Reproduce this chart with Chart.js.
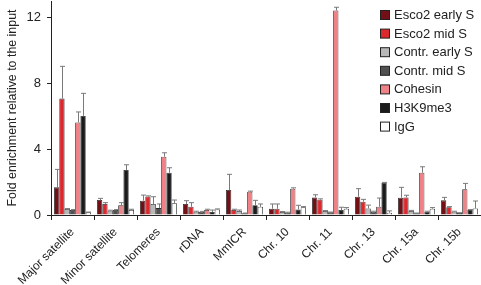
<!DOCTYPE html>
<html lang="en">
<head>
<meta charset="UTF-8">
<title>Fold enrichment</title>
<script src="https://cdn.jsdelivr.net/npm/chart.js"></script>
<style>
  body { margin: 0; background: #fff; }
  #wrap { position: relative; width: 481px; height: 285px; }
</style>
</head>
<body>
<div id="wrap"><canvas id="chart" width="481" height="285"></canvas></div>
<script>
// categories and values
const categories = ['Major satellite', 'Minor satellite', 'Telomeres', 'rDNA', 'MmICR',
  'Chr. 10', 'Chr. 11', 'Chr. 13', 'Chr. 15a', 'Chr. 15b'];
const seriesNames = ['Esco2 early S', 'Esco2 mid S', 'Contr. early S', 'Contr. mid S', 'Cohesin', 'H3K9me3', 'IgG'];

const esco2Early    = [1.68, 0.91, 0.87, 0.67, 1.52, 0.38, 1.07, 1.11, 1.05, 0.89];
const esco2EarlyErr = [1.09, 0.10, 0.34, 0.20, 0.95, 0.29, 0.16, 0.49, 0.63, 0.18];
const esco2Mid      = [7.07, 0.67, 1.13, 0.50, 0.30, 0.38, 0.93, 0.81, 1.07, 0.47];
const esco2MidErr   = [1.96, 0.08, 0.03, 0.25, 0.05, 0.29, 0.05, 0.14, 0.13, 0.04];
const contrEarly    = [0.36, 0.26, 0.67, 0.20, 0.24, 0.18, 0.24, 0.40, 0.24, 0.20];
const contrEarlyErr = [0.03, 0.03, 0.44, 0.03, 0.06, 0.03, 0.03, 0.20, 0.04, 0.03];
const contrMid      = [0.30, 0.30, 0.42, 0.20, 0.10, 0.15, 0.16, 0.20, 0.10, 0.12];
const contrMidErr   = [0.03, 0.03, 0.25, 0.02, 0.02, 0.02, 0.02, 0.03, 0.02, 0.02];
const cohesin       = [5.62, 0.59, 3.54, 0.30, 1.41, 1.60, 12.42, 0.50, 2.57, 1.56];
const cohesinErr    = [0.64, 0.16, 0.24, 0.05, 0.04, 0.05, 0.20, 0.53, 0.36, 0.36];
const h3k9me3       = [6.02, 2.73, 2.57, 0.18, 0.59, 0.34, 0.30, 1.96, 0.20, 0.30];
const h3k9me3Err    = [1.37, 0.32, 0.30, 0.12, 0.30, 0.25, 0.17, 0.02, 0.03, 0.03];
const igg           = [0.16, 0.30, 0.71, 0.34, 0.50, 0.47, 0.38, 0.14, 0.38, 0.40];
const iggErr        = [0.02, 0.05, 0.20, 0.03, 0.17, 0.04, 0.07, 0.11, 0.07, 0.45];

const yTicks = [0, 4, 8, 12];
const yMax = 13;

const colors = ['#731015', '#dc272c', '#b8b8b8', '#505050', '#ef8286', '#1b1b1b', '#ffffff'];
const values = [esco2Early, esco2Mid, contrEarly, contrMid, cohesin, h3k9me3, igg];
const errors = [esco2EarlyErr, esco2MidErr, contrEarlyErr, contrMidErr, cohesinErr, h3k9me3Err, iggErr];

const FONT = 'Arial, "Liberation Sans", sans-serif';

// error bars drawn on top of each bar using the y scale
const errorBars = {
  id: 'errorBars',
  afterDatasetsDraw(chart) {
    const ctx = chart.ctx;
    const y = chart.scales.y;
    ctx.save();
    ctx.strokeStyle = '#7a7a7a';
    ctx.lineWidth = 1;
    chart.data.datasets.forEach((ds, i) => {
      const meta = chart.getDatasetMeta(i);
      meta.data.forEach((bar, j) => {
        const err = ds.errors[j];
        if (!err) return;
        const top = y.getPixelForValue(ds.data[j] + err);
        const x = Math.round(bar.x) + 0.5;
        ctx.beginPath();
        ctx.moveTo(x, bar.y);
        ctx.lineTo(x, top);
        ctx.moveTo(x - 2.5, top);
        ctx.lineTo(x + 2.5, top);
        ctx.stroke();
      });
    });
    ctx.restore();
  }
};

// legend in the upper right corner
const sideLegend = {
  id: 'sideLegend',
  afterDraw(chart) {
    const ctx = chart.ctx;
    ctx.save();
    ctx.font = '13px ' + FONT;
    ctx.textBaseline = 'middle';
    seriesNames.forEach((name, i) => {
      const cy = 15 + i * 18.6;
      ctx.fillStyle = colors[i];
      ctx.fillRect(380.5, cy - 4.5, 9, 9);
      ctx.strokeStyle = '#222';
      ctx.lineWidth = 1;
      ctx.strokeRect(380.5, cy - 4.5, 9, 9);
      ctx.fillStyle = '#222';
      ctx.fillText(name, 394, cy + 0.5);
    });
    ctx.restore();
  }
};

new Chart(document.getElementById('chart'), {
  type: 'bar',
  data: {
    labels: categories,
    datasets: seriesNames.map((name, i) => ({
      label: name,
      data: values[i],
      errors: errors[i],
      backgroundColor: colors[i],
      borderColor: '#2a2a2a',
      borderWidth: 0.8,
      categoryPercentage: 0.86,
      barPercentage: 1.0
    }))
  },
  options: {
    responsive: false,
    animation: false,
    devicePixelRatio: 1,
    layout: { padding: { top: 1, right: 0, left: 0, bottom: 0 } },
    plugins: { legend: { display: false }, tooltip: { enabled: false } },
    scales: {
      x: {
        grid: { drawOnChartArea: false, drawTicks: true, tickLength: 5, color: '#222', offset: true },
        border: { display: true, color: '#222', width: 1 },
        ticks: { color: '#222', font: { family: FONT, size: 12 }, maxRotation: 45, minRotation: 45, padding: 5, autoSkip: false },
        afterFit(scale) {
          scale.height = 70;
          scale.paddingLeft = 0;
          scale.paddingRight = 0;
        }
      },
      y: {
        min: 0,
        max: yMax,
        afterBuildTicks(axis) { axis.ticks = yTicks.map(v => ({ value: v })); },
        grid: { drawOnChartArea: false, drawTicks: true, tickLength: 4, color: '#222' },
        border: { display: true, color: '#222', width: 1 },
        ticks: { color: '#222', font: { family: FONT, size: 13 }, padding: 6 },
        title: { display: true, text: 'Fold enrichment relative to the input', color: '#222', font: { family: FONT, size: 12.4 }, padding: { top: 5, bottom: 0 } },
        afterFit(scale) {
          scale.width = 51;
          scale.paddingTop = 0;
          scale.paddingBottom = 0;
        }
      }
    }
  },
  plugins: [errorBars, sideLegend]
});
</script>
</body>
</html>
